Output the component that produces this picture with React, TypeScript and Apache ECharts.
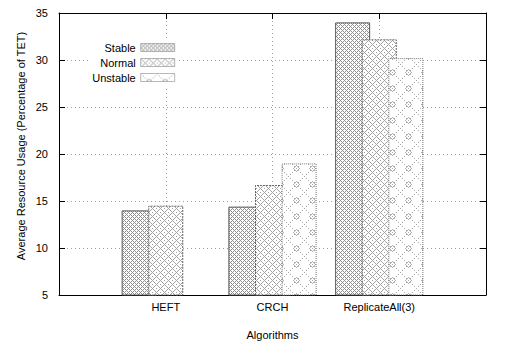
import React, { useEffect, useRef } from 'react';
import * as echarts from 'echarts';

const categories = ['HEFT', 'CRCH', 'ReplicateAll(3)'];
const seriesNames = ['Stable', 'Normal', 'Unstable'];
const stableValues = [14.0, 14.4, 34.0];
const normalValues = [14.5, 16.7, 32.2];
const unstableValues: (number | null)[] = [null, 19.0, 30.2];
const yMin = 5;
const yMax = 35;
const yStep = 5;

const FONT = 'Liberation Sans, Arial, Helvetica, sans-serif';

function makePattern(size: number, on: (x: number, y: number) => boolean, color: string) {
  const c = document.createElement('canvas');
  c.width = size;
  c.height = size;
  const ctx = c.getContext('2d')!;
  ctx.fillStyle = '#ffffff';
  ctx.fillRect(0, 0, size, size);
  ctx.fillStyle = color;
  for (let y = 0; y < size; y++) {
    for (let x = 0; x < size; x++) {
      if (on(x, y)) ctx.fillRect(x, y, 1, 1);
    }
  }
  return { image: c, repeat: 'repeat', imageWidth: size, imageHeight: size } as any;
}

const mod = (a: number, n: number) => ((a % n) + n) % n;

export default function App() {
  const ref = useRef<HTMLDivElement>(null);
  useEffect(() => {
    if (!ref.current) return;
    const chart = echarts.init(ref.current, undefined, { renderer: 'svg' });

    const pStable = makePattern(8, (x, y) => mod(x + y, 4) === 0 || mod(x - y, 4) === 0, '#8e8e8e');
    const pNormal = makePattern(
      8,
      (x, y) => (mod(x + y, 8) === 0 || mod(x - y, 8) === 0) || ((mod(x + y, 8) === 4 || mod(x - y, 8) === 4) && mod(x, 2) === 0),
      '#a2a2a2'
    );
    const pUnstable = makePattern(
      16,
      (x, y) => {
        const d1 = mod(x + y, 16) === 0 || mod(x - y, 16) === 0;
        const dx = x - 8, dy = y - 8;
        const r = Math.abs(dx) + Math.abs(dy);
        const ring = r === 3 && mod(x + y, 2) === 1;
        return (d1 && mod(x, 2) === 0) || ring;
      },
      '#adadad'
    );

    const pad = <T,>(arr: T[]) => [null, ...arr, null];
    const xData = ['', ...categories, ''];

    const barCommon = {
      type: 'bar' as const,
      barWidth: 35,
      barGap: '-24%',
      xAxisIndex: 0,
      yAxisIndex: 0,
    };

    chart.setOption({
      animation: false,
      backgroundColor: '#ffffff',
      textStyle: { fontFamily: FONT },
      grid: { left: 59, right: 20, top: 13, bottom: 59, containLabel: false },
      legend: {
        orient: 'vertical',
        align: 'right',
        right: 327,
        top: 39,
        itemWidth: 34,
        itemHeight: 8,
        itemGap: 4,
        icon: 'rect',
        backgroundColor: '#ffffff',
        padding: [3, 4, 3, 4],
        itemStyle: { borderWidth: 0.6, borderColor: '#888' },
        textStyle: { fontSize: 11, color: '#000', fontFamily: FONT },
        data: seriesNames,
      },
      xAxis: [
        {
          type: 'category',
          data: xData,
          boundaryGap: false,
          position: 'bottom',
          axisLine: { lineStyle: { color: '#000', width: 1 } },
          axisTick: { inside: true, length: 6, lineStyle: { color: '#000' } },
          axisLabel: { fontSize: 11, color: '#000', margin: 6, fontFamily: FONT },
          splitLine: { show: true, lineStyle: { color: '#a0a0a0', type: [1, 3] } },
          name: 'Algorithms',
          nameLocation: 'middle',
          nameGap: 34,
          nameTextStyle: { fontSize: 11, color: '#000', fontFamily: FONT },
        },
        {
          type: 'category',
          data: xData,
          boundaryGap: false,
          position: 'top',
          axisLine: { lineStyle: { color: '#000', width: 1 } },
          axisTick: { inside: true, length: 6, lineStyle: { color: '#000' } },
          axisLabel: { show: false },
          splitLine: { show: false },
        },
      ],
      yAxis: [
        {
          type: 'value',
          min: yMin,
          max: yMax,
          interval: yStep,
          position: 'left',
          axisLine: { show: true, lineStyle: { color: '#000', width: 1 } },
          axisTick: { show: true, inside: true, length: 6, lineStyle: { color: '#000' } },
          axisLabel: { fontSize: 11, color: '#000', margin: 11, fontFamily: FONT },
          splitLine: { show: true, lineStyle: { color: '#a0a0a0', type: [1, 3] } },
        },
        {
          type: 'value',
          min: yMin,
          max: yMax,
          interval: yStep,
          position: 'right',
          axisLine: { show: true, lineStyle: { color: '#000', width: 1 } },
          axisTick: { show: true, inside: true, length: 6, lineStyle: { color: '#000' } },
          axisLabel: { show: false },
          splitLine: { show: false },
        },
      ],
      graphic: [
        {
          type: 'text',
          x: 21,
          y: 146,
          rotation: Math.PI / 2,
          style: {
            text: 'Average Resource Usage (Percentage of TET)',
            fontSize: 11,
            fontFamily: FONT,
            fill: '#000',
            align: 'center',
            verticalAlign: 'middle',
          },
        },
      ],
      series: [
        {
          ...barCommon,
          name: seriesNames[0],
          data: pad(stableValues),
          itemStyle: { color: pStable, borderColor: '#555', borderWidth: 1 },
        },
        {
          ...barCommon,
          name: seriesNames[1],
          data: pad(normalValues),
          itemStyle: { color: pNormal, borderColor: '#666', borderWidth: 1, borderType: [2, 1] },
        },
        {
          ...barCommon,
          name: seriesNames[2],
          data: pad(unstableValues),
          itemStyle: { color: pUnstable, borderColor: '#777', borderWidth: 1, borderType: [1, 1] },
        },
      ],
    });
    return () => chart.dispose();
  }, []);
  return (
    <div
      ref={ref}
      style={{ position: 'fixed', left: 0, top: 0, width: 506, height: 354, background: '#fff' }}
    />
  );
}
